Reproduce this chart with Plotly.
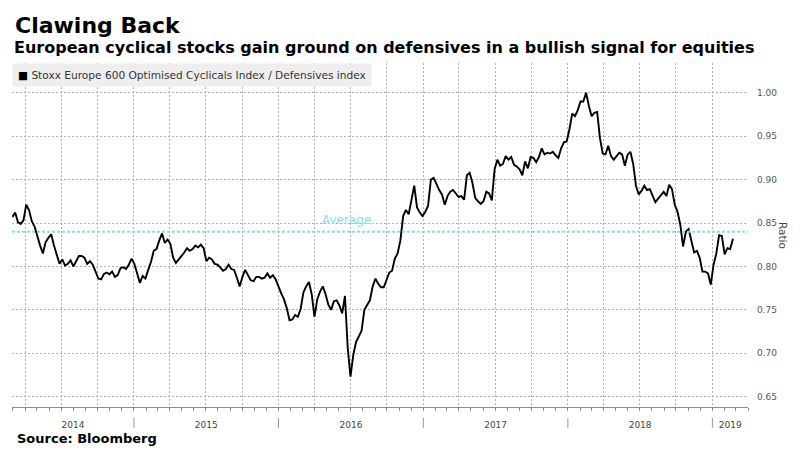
import pandas as pd
import plotly.graph_objects as go

# ---- data (weekly readings) ----
start_date = "2014-02-28"
ratio = [
    0.857, 0.862, 0.851, 0.849, 0.853, 0.871, 0.865, 0.852, 0.846, 0.834,
    0.824, 0.815, 0.828, 0.833, 0.837, 0.824, 0.812, 0.803, 0.808, 0.801,
    0.803, 0.807, 0.800, 0.806, 0.812, 0.812, 0.810, 0.803, 0.806, 0.802,
    0.793, 0.786, 0.785, 0.791, 0.793, 0.791, 0.794, 0.788, 0.790, 0.798,
    0.799, 0.797, 0.802, 0.809, 0.803, 0.791, 0.781, 0.789, 0.786, 0.796,
    0.805, 0.818, 0.820, 0.830, 0.838, 0.827, 0.831, 0.826, 0.810, 0.804,
    0.808, 0.811, 0.816, 0.821, 0.818, 0.820, 0.824, 0.822, 0.825, 0.821,
    0.806, 0.810, 0.808, 0.803, 0.802, 0.799, 0.795, 0.797, 0.802, 0.797,
    0.796, 0.787, 0.777, 0.788, 0.796, 0.790, 0.784, 0.783, 0.788, 0.788,
    0.786, 0.787, 0.792, 0.787, 0.790, 0.785, 0.776, 0.769, 0.762, 0.752,
    0.738, 0.739, 0.744, 0.742, 0.751, 0.770, 0.777, 0.782, 0.768, 0.742,
    0.762, 0.771, 0.777, 0.768, 0.756, 0.750, 0.760, 0.761, 0.755, 0.746,
    0.766, 0.706, 0.673, 0.698, 0.713, 0.719, 0.726, 0.750, 0.756, 0.761,
    0.777, 0.786, 0.780, 0.776, 0.776, 0.785, 0.793, 0.795, 0.809, 0.815,
    0.830, 0.858, 0.865, 0.860, 0.878, 0.893, 0.868, 0.862, 0.858, 0.863,
    0.870, 0.900, 0.902, 0.894, 0.888, 0.883, 0.871, 0.881, 0.886, 0.888,
    0.884, 0.880, 0.881, 0.877, 0.905, 0.908, 0.896, 0.879, 0.875, 0.872,
    0.875, 0.886, 0.884, 0.876, 0.912, 0.923, 0.916, 0.918, 0.927, 0.923,
    0.926, 0.917, 0.915, 0.912, 0.905, 0.921, 0.913, 0.926, 0.925, 0.920,
    0.926, 0.936, 0.929, 0.931, 0.930, 0.932, 0.928, 0.925, 0.936, 0.943,
    0.944, 0.958, 0.976, 0.973, 0.980, 0.990, 0.990, 1.000, 0.985, 0.973,
    0.977, 0.978, 0.948, 0.930, 0.929, 0.939, 0.927, 0.923, 0.927, 0.931,
    0.929, 0.916, 0.929, 0.932, 0.918, 0.893, 0.883, 0.887, 0.893, 0.888,
    0.889, 0.882, 0.874, 0.878, 0.882, 0.886, 0.881, 0.894, 0.889, 0.871,
    0.863, 0.848, 0.823, 0.840, 0.843, 0.829, 0.816, 0.818, 0.810, 0.794,
    0.794, 0.792, 0.779, 0.802, 0.815, 0.836, 0.835, 0.814, 0.821, 0.820,
    0.832,
]
average_value = 0.84
y_ticks = [0.65, 0.70, 0.75, 0.80, 0.85, 0.90, 0.95, 1.00]
years = ["2014", "2015", "2016", "2017", "2018", "2019"]
x_range = ["2014-02-27", "2019-04-01"]
y_range = [0.6381, 1.0343]

title = "Clawing Back"
subtitle = "European cyclical stocks gain ground on defensives in a bullish signal for equities"
series_name = "Stoxx Europe 600 Optimised Cyclicals Index / Defensives index"
source = "Source: Bloomberg"

dates = pd.date_range(start_date, periods=len(ratio), freq="7D")

# year label positions: centre of each year's visible span
r0, r1 = pd.Timestamp(x_range[0]), pd.Timestamp(x_range[1])
label_pos = []
for y in years:
    a = max(pd.Timestamp(f"{y}-01-01"), r0)
    b = min(pd.Timestamp(f"{int(y)+1}-01-01"), r1)
    label_pos.append(a + (b - a) / 2)

FONT = "DejaVu Sans"
GRID = "#b0b0b0"
AVG = "#8adfe5"
W, H = 800, 457
ML, MR, MT, MB = 12, 52, 63, 50
PW, PH = W - ML - MR, H - MT - MB


def px(xp):
    return (xp - ML) / PW


def py(yp):
    return (H - MB - yp) / PH


fig = go.Figure()
fig.add_trace(go.Scatter(
    x=dates, y=ratio, mode="lines", name=series_name,
    line=dict(color="#000000", width=1.9), showlegend=False,
    hoverinfo="x+y",
))
fig.add_trace(go.Scatter(
    x=[r0, r1], y=[average_value, average_value], mode="lines",
    line=dict(color=AVG, width=2, dash="3px,2px"), showlegend=False,
    xaxis="x2", hoverinfo="skip",
))

fig.update_layout(
    width=W, height=H,
    margin=dict(l=ML, r=MR, t=MT, b=MB, autoexpand=False),
    paper_bgcolor="white", plot_bgcolor="white",
    font=dict(family=FONT, color="#444444"),
    xaxis=dict(
        type="date", range=x_range,
        tick0="2014-01-01", dtick="M3",
        showgrid=True, gridcolor=GRID, griddash="2px,2px", gridwidth=1,
        showline=True, linecolor="#8c8c8c", linewidth=1,
        ticks="outside", ticklen=3, tickcolor="#8c8c8c",
        showticklabels=False, zeroline=False,
        minor=dict(dtick="M1", tick0="2014-01-01", ticks="outside",
                   ticklen=3, tickcolor="#8c8c8c", showgrid=False),
    ),
    xaxis2=dict(
        type="date", range=x_range, overlaying="x", anchor="y", side="bottom",
        tickmode="array", tickvals=label_pos, ticktext=years,
        ticks="", showgrid=False, showline=False, zeroline=False,
        tickfont=dict(family=FONT, size=9, color="#444444"),
        ticklabelstandoff=11,
    ),
    yaxis=dict(
        side="right", range=y_range,
        tickmode="array", tickvals=y_ticks,
        ticktext=[f"{v:.2f}" for v in y_ticks],
        showgrid=True, gridcolor=GRID, griddash="2px,2px", gridwidth=1,
        ticks="", showline=False, zeroline=False,
        tickfont=dict(family=FONT, size=9, color="#555555"),
        ticklabelstandoff=8,
    ),
)

annotations = [
    dict(text=f"<b>{title}</b>", x=px(13), y=py(25), xref="paper", yref="paper",
         xanchor="left", yanchor="middle", showarrow=False,
         font=dict(family=FONT, size=22, color="#000000")),
    dict(text=f"<b>{subtitle}</b>", x=px(12), y=py(48), xref="paper", yref="paper",
         xanchor="left", yanchor="middle", showarrow=False,
         font=dict(family=FONT, size=16, color="#000000")),
    dict(text="<span style='color:#000'>■</span> " + series_name,
         x=0, y=1, xref="paper", yref="paper",
         xanchor="left", yanchor="top", showarrow=False,
         bgcolor="#eeeeee", borderpad=5,
         font=dict(family=FONT, size=10.6, color="#333333")),
    dict(text="Average", x=pd.Timestamp("2016-06-22"), y=average_value,
         xref="x", yref="y", xanchor="center", yanchor="bottom", yshift=3,
         showarrow=False, font=dict(family=FONT, size=12, color=AVG)),
    dict(text="Ratio", x=px(783), y=0.5, xref="paper", yref="paper",
         xanchor="center", yanchor="middle",
         textangle=90, showarrow=False,
         font=dict(family=FONT, size=10.5, color="#444444")),
    dict(text=f"<b>{source}</b>", x=px(15), y=py(438), xref="paper", yref="paper",
         xanchor="left", yanchor="middle", showarrow=False,
         font=dict(family=FONT, size=13, color="#000000")),
]
fig.update_layout(annotations=annotations)

shapes = []
for y in years[1:]:
    shapes.append(dict(type="line", xref="x", yref="paper",
                       x0=f"{y}-01-01", x1=f"{y}-01-01",
                       y0=py(418), y1=py(428),
                       line=dict(color="#9a9a9a", width=1)))
fig.update_layout(shapes=shapes)

fig.write_html(
    "out.html",
    config={"displayModeBar": False},
    post_script="document.body.style.margin='0';document.body.style.overflow='hidden';",
)
